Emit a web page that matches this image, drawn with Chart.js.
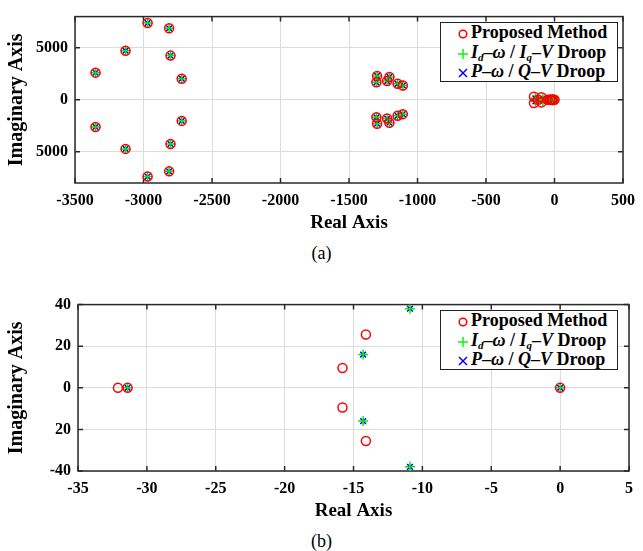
<!DOCTYPE html>
<html>
<head>
<meta charset="utf-8">
<script src="https://cdn.jsdelivr.net/npm/chart.js@4.4.0/dist/chart.umd.min.js"></script>
<style>
  body { margin: 0; background: #fff; width: 643px; height: 551px; position: relative; overflow: hidden; font-family: "Liberation Serif", serif; }
  canvas { position: absolute; left: 0; }
  .legend { position: absolute; left: 440px; width: 178px; height: 60px; border: 1.5px solid #222; background: #fff;
            font-weight: bold; font-size: 18px; line-height: 19.5px; box-sizing: border-box; padding-top: 0px; }
  .legend div { white-space: nowrap; }
  .legend svg { vertical-align: -1px; margin: 0 3px 0 17px; }
  .legend sub { font-size: 11px; line-height: 0; vertical-align: -3px; }
  .cap { position: absolute; left: 0; width: 643px; text-align: center; font-size: 18px; }
</style>
</head>
<body>
<canvas id="chartA" width="643" height="240" style="top:0px"></canvas>
<canvas id="chartB" width="643" height="240" style="top:288px"></canvas>

<div class="legend" style="top:22px">
  <div><svg width="10" height="10"><circle cx="5" cy="5" r="3.8" fill="none" stroke="#f00" stroke-width="1.5"/></svg>Proposed Method</div>
  <div><svg width="10" height="10"><path d="M5 0V10M0 5H10" stroke="#0f0" stroke-width="1.5"/></svg><i>I<sub>d</sub></i>–<i>ω</i> / <i>I<sub>q</sub></i>–<i>V</i> Droop</div>
  <div><svg width="10" height="10"><path d="M1 1L9 9M9 1L1 9" stroke="#00f" stroke-width="1.5"/></svg><i>P</i>–<i>ω</i> / <i>Q</i>–<i>V</i> Droop</div>
</div>
<div class="legend" style="top:310px">
  <div><svg width="10" height="10"><circle cx="5" cy="5" r="3.8" fill="none" stroke="#f00" stroke-width="1.5"/></svg>Proposed Method</div>
  <div><svg width="10" height="10"><path d="M5 0V10M0 5H10" stroke="#0f0" stroke-width="1.5"/></svg><i>I<sub>d</sub></i>–<i>ω</i> / <i>I<sub>q</sub></i>–<i>V</i> Droop</div>
  <div><svg width="10" height="10"><path d="M1 1L9 9M9 1L1 9" stroke="#00f" stroke-width="1.5"/></svg><i>P</i>–<i>ω</i> / <i>Q</i>–<i>V</i> Droop</div>
</div>

<div class="cap" style="top:243px">(a)</div>
<div class="cap" style="top:531px">(b)</div>

<script>
// (a) full pole map
var aPropRe = [-2970, -2970, -2813, -2813, -3131, -3131, -2803, -2803, -3350, -3350, -2721, -2721,
               -1295, -1295, -1300, -1300, -1205, -1205, -1222, -1222, -1145, -1145, -1107, -1107,
               -150, -150, -95, -95, -120, -50, -32, -31, -16, -16, -14, -14, 0];
var aPropIm = [7380, -7380, 6880, -6880, 4720, -4720, 4250, -4250, 2610, -2610, 2030, -2030,
               2300, -2300, 1680, -1680, 2200, -2200, 1800, -1800, 1540, -1540, 1380, -1380,
               300, -300, 250, -250, 0, 0, 0, 0, 10, -10, 26, -26, 0];
var aDroopRe = [-2970, -2970, -2813, -2813, -3131, -3131, -2803, -2803, -3350, -3350, -2721, -2721,
                -1295, -1295, -1300, -1300, -1205, -1205, -1222, -1222, -1145, -1145, -1107, -1107,
                -140, -140, -120, -85, -85, -60, -40, -31, -14, -14, -11, -11, 0];
var aDroopIm = [7380, -7380, 6880, -6880, 4720, -4720, 4250, -4250, 2610, -2610, 2030, -2030,
                2300, -2300, 1680, -1680, 2200, -2200, 1800, -1800, 1540, -1540, 1380, -1380,
                150, -150, 0, 120, -120, 0, 0, 0, 16, -16, 38, -38, 0];

// (b) zoom near the origin
var bPropRe = [-32.1, -31.4, -15.8, -15.8, -14.1, -14.1, 0];
var bPropIm = [0, 0, 9.5, -9.5, 25.6, -25.6, 0];
var bDroopRe = [-31.4, -14.3, -14.3, -10.9, -10.9, 0];
var bDroopIm = [0, 16, -16, 38, -38, 0];

var aXTicks = [-3500, -3000, -2500, -2000, -1500, -1000, -500, 0, 500];
var aYTicks = [-5000, 0, 5000];
var aYLabels = ["5000", "0", "5000"];
var bXTicks = [-35, -30, -25, -20, -15, -10, -5, 0, 5];
var bYTicks = [-40, -20, 0, 20, 40];
var bYLabels = ["-40", "20", "0", "20", "40"];

function pts(re, im) {
  return re.map(function (r, i) { return { x: r, y: im[i] }; });
}

var boxPlugin = {
  id: 'box',
  beforeDatasetsDraw: function (chart) {
    var ctx = chart.ctx, a = chart.chartArea, sx = chart.scales.x, sy = chart.scales.y;
    ctx.save();
    ctx.strokeStyle = '#2a2a2a';
    ctx.lineWidth = 1.5;
    ctx.strokeRect(a.left, a.top, a.right - a.left, a.bottom - a.top);
    ctx.beginPath();
    sx.ticks.forEach(function (t) {
      var p = sx.getPixelForValue(t.value);
      ctx.moveTo(p, a.bottom); ctx.lineTo(p, a.bottom - 5);
      ctx.moveTo(p, a.top); ctx.lineTo(p, a.top + 5);
    });
    sy.ticks.forEach(function (t) {
      var p = sy.getPixelForValue(t.value);
      ctx.moveTo(a.left, p); ctx.lineTo(a.left + 5, p);
      ctx.moveTo(a.right, p); ctx.lineTo(a.right - 5, p);
    });
    ctx.stroke();
    ctx.restore();
  }
};

function makeChart(id, prop, droop, xTicks, yTicks, yLabels, yMax, yAxisW, rightPad) {
  var tickFont = { family: 'Liberation Serif', weight: 'bold', size: 16 };
  var titleFont = { family: 'Liberation Serif', weight: 'bold', size: 19 };
  return new Chart(id, {
    type: 'scatter',
    data: {
      datasets: [
        { label: 'Proposed Method', data: prop, pointStyle: 'circle', pointRadius: 4.5,
          borderColor: '#ff0000', backgroundColor: 'rgba(0,0,0,0)', borderWidth: 1.5 },
        { label: 'Id-w / Iq-V Droop', data: droop, pointStyle: 'cross', pointRadius: 5,
          borderColor: '#00ee00', borderWidth: 1.5 },
        { label: 'P-w / Q-V Droop', data: droop, pointStyle: 'crossRot', pointRadius: 4,
          borderColor: '#0000ff', borderWidth: 1.5 }
      ]
    },
    options: {
      responsive: false,
      animation: false,
      layout: { padding: { top: 13, right: rightPad, left: 0, bottom: 0 } },
      plugins: { legend: { display: false }, tooltip: { enabled: false } },
      scales: {
        x: {
          type: 'linear', min: xTicks[0], max: xTicks[xTicks.length - 1],
          afterBuildTicks: function (s) { s.ticks = xTicks.map(function (v) { return { value: v }; }); },
          afterFit: function (s) { s.height = 57; },
          ticks: { font: tickFont, color: '#000', padding: 8,
                   callback: function (v) { return String(v); } },
          grid: { color: '#dcdcdc', drawTicks: false },
          border: { display: false },
          title: { display: true, text: 'Real Axis', font: titleFont, color: '#000', padding: { top: 0, bottom: 6 } }
        },
        y: {
          type: 'linear', min: -yMax, max: yMax,
          afterBuildTicks: function (s) { s.ticks = yTicks.map(function (v) { return { value: v }; }); },
          afterFit: function (s) { s.width = yAxisW; },
          ticks: { font: tickFont, color: '#000', padding: 7,
                   callback: function (v) { var i = yTicks.indexOf(v); return i >= 0 ? yLabels[i] : ''; } },
          grid: { color: '#dcdcdc', drawTicks: false },
          border: { display: false },
          title: { display: true, text: 'Imaginary Axis', font: { family: 'Liberation Serif', weight: 'bold', size: 20 },
                   color: '#000', padding: { top: 5, bottom: 0 } }
        }
      }
    },
    plugins: [boxPlugin]
  });
}

makeChart('chartA', pts(aPropRe, aPropIm), pts(aDroopRe, aDroopIm), aXTicks, aYTicks, aYLabels, 8000, 75, 15);
makeChart('chartB', pts(bPropRe, bPropIm), pts(bDroopRe, bDroopIm), bXTicks, bYTicks, bYLabels, 40, 78, 14);
</script>
</body>
</html>
